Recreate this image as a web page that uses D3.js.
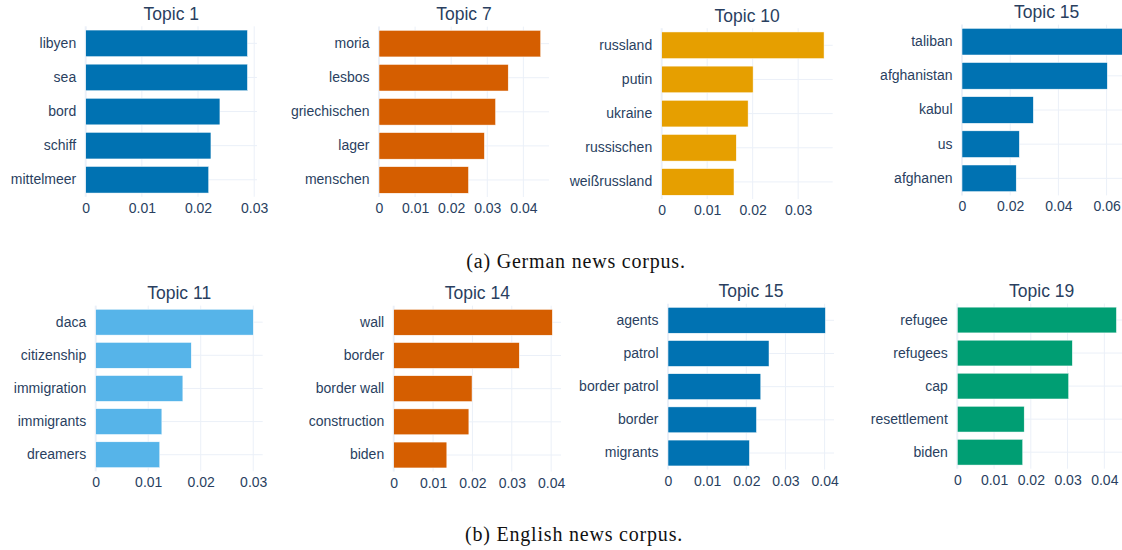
<!DOCTYPE html>
<html>
<head>
<meta charset="utf-8">
<script src="https://cdn.jsdelivr.net/npm/d3@7"></script>
<style>
  html, body { margin: 0; padding: 0; background: #fff; }
  svg { display: block; }
</style>
</head>
<body>
<div id="chart"></div>
<script>
// ---- data ----
const germanTopics = ["Topic 1", "Topic 7", "Topic 10", "Topic 15"]
const germanWords = [
    ["libyen", "sea", "bord", "schiff", "mittelmeer"],
    ["moria", "lesbos", "griechischen", "lager", "menschen"],
    ["russland", "putin", "ukraine", "russischen", "weißrussland"],
    ["taliban", "afghanistan", "kabul", "us", "afghanen"]
]
const germanWeights = [
    [0.0288, 0.0288, 0.0239, 0.0223, 0.0219],
    [0.0448, 0.0358, 0.0323, 0.0292, 0.0248],
    [0.0357, 0.0201, 0.0190, 0.0164, 0.0159],
    [0.0750, 0.0603, 0.0296, 0.0238, 0.0225]
]

const englishTopics = ["Topic 11", "Topic 14", "Topic 15", "Topic 19"]
const englishWords = [
    ["daca", "citizenship", "immigration", "immigrants", "dreamers"],
    ["wall", "border", "border wall", "construction", "biden"],
    ["agents", "patrol", "border patrol", "border", "migrants"],
    ["refugee", "refugees", "cap", "resettlement", "biden"]
]
const englishWeights = [
    [0.0300, 0.0182, 0.0166, 0.0126, 0.0122],
    [0.0403, 0.0319, 0.0199, 0.0191, 0.0135],
    [0.0402, 0.0258, 0.0237, 0.0226, 0.0208],
    [0.0433, 0.0313, 0.0303, 0.0182, 0.0178]
]

// axis ranges of each subplot (x axis upper bound)
const germanAxisMax = [0.0305, 0.0471, 0.0376, 0.0703]
const englishAxisMax = [0.0318, 0.0425, 0.0424, 0.0459]

const captions = ["(a) German news corpus.", "(b) English news corpus."]

// ---- styles / layout ----
const germanColors = ["#0072b2", "#d55e00", "#e69f00", "#0072b2"]
const englishColors = ["#56b4e9", "#d55e00", "#0072b2", "#009e73"]

// plot rectangles [left, right, top, bottom]
const germanFrames = [
    [85.7, 257, 26.3, 196.8],
    [379, 549, 26.6, 197],
    [661.7, 832.7, 28.2, 199],
    [962, 1131.4, 24.6, 195.4]
]
const englishFrames = [
    [95.7, 262.7, 305.6, 471.3],
    [393.7, 561, 305.7, 471.6],
    [668, 834, 303.7, 469.6],
    [957.3, 1126, 303.5, 468.7]
]

const width = 1122
const height = 550
const gridColor = "#ebf0f8"
const textColor = "#2a3f5f"
const sansFont = "'Liberation Sans', Arial, sans-serif"

const svg = d3.select("#chart").append("svg")
    .attr("width", width)
    .attr("height", height)
    .attr("viewBox", [0, 0, width, height])

const fmt = d => d3.format(".2~f")(d)

function drawPanel(title, words, weights, xmax, frame, color, idx) {
    const [left, right, top, bottom] = frame
    const x = d3.scaleLinear().domain([0, xmax]).range([left, right])
    // plotly-like categories: centres at equal steps, gap split half/half at the ends
    const y = d3.scaleBand().domain(words).range([top, bottom])
        .paddingInner(0.22).paddingOuter(0.11)
    const ticks = x.ticks(4)

    const g = svg.append("g")

    const clipId = `clip-${idx}`
    g.append("clipPath").attr("id", clipId)
        .append("rect")
        .attr("x", left).attr("y", top)
        .attr("width", right - left).attr("height", bottom - top)

    // grid
    g.append("g")
        .attr("stroke", gridColor)
        .attr("stroke-width", 1)
        .selectAll("line")
        .data(ticks.filter(t => t !== 0))
        .join("line")
        .attr("x1", d => x(d)).attr("x2", d => x(d))
        .attr("y1", top).attr("y2", bottom)
    g.append("g")
        .attr("stroke", gridColor)
        .attr("stroke-width", 1)
        .selectAll("line")
        .data(words)
        .join("line")
        .attr("x1", left).attr("x2", right)
        .attr("y1", d => y(d) + y.bandwidth() / 2)
        .attr("y2", d => y(d) + y.bandwidth() / 2)
    // zero line
    g.append("line")
        .attr("stroke", gridColor)
        .attr("stroke-width", 2)
        .attr("x1", x(0)).attr("x2", x(0))
        .attr("y1", top).attr("y2", bottom)

    // bars
    g.append("g")
        .attr("clip-path", `url(#${clipId})`)
        .selectAll("rect")
        .data(words.map((w, i) => ({ w, v: weights[i] })))
        .join("rect")
        .attr("x", x(0))
        .attr("y", d => y(d.w))
        .attr("width", d => x(d.v) - x(0))
        .attr("height", y.bandwidth())
        .attr("fill", color)
        .attr("stroke", "#fff")
        .attr("stroke-width", 0.5)

    // x axis labels
    const xAxis = d3.axisBottom(x).tickValues(ticks).tickFormat(fmt).tickSize(0).tickPadding(6)
    const xg = g.append("g").attr("transform", `translate(0,${bottom})`).call(xAxis)
    xg.select(".domain").remove()
    xg.selectAll("text")
        .attr("fill", textColor)
        .style("font-family", sansFont)
        .style("font-size", "14px")

    // y axis labels
    const yAxis = d3.axisLeft(y).tickSize(0).tickPadding(9.5)
    const yg = g.append("g").attr("transform", `translate(${left},0)`).call(yAxis)
    yg.select(".domain").remove()
    yg.selectAll("text")
        .attr("fill", textColor)
        .style("font-family", sansFont)
        .style("font-size", "14px")

    // title
    g.append("text")
        .attr("x", (left + right) / 2)
        .attr("y", top - 6.5)
        .attr("text-anchor", "middle")
        .attr("fill", textColor)
        .style("font-family", sansFont)
        .style("font-size", "17.5px")
        .text(title)
}

germanTopics.forEach((t, i) =>
    drawPanel(t, germanWords[i], germanWeights[i], germanAxisMax[i], germanFrames[i], germanColors[i], `de${i}`))
englishTopics.forEach((t, i) =>
    drawPanel(t, englishWords[i], englishWeights[i], englishAxisMax[i], englishFrames[i], englishColors[i], `en${i}`))

// captions
svg.selectAll("text.caption")
    .data(captions)
    .join("text")
    .attr("class", "caption")
    .attr("x", (d, i) => i === 0 ? 576 : 574)
    .attr("y", (d, i) => i === 0 ? 267.7 : 541)
    .attr("text-anchor", "middle")
    .attr("fill", "#111")
    .style("font-family", "'Liberation Serif', 'Times New Roman', serif")
    .style("font-size", "20px")
    .style("letter-spacing", "0.8px")
    .text(d => d)
</script>
</body>
</html>
